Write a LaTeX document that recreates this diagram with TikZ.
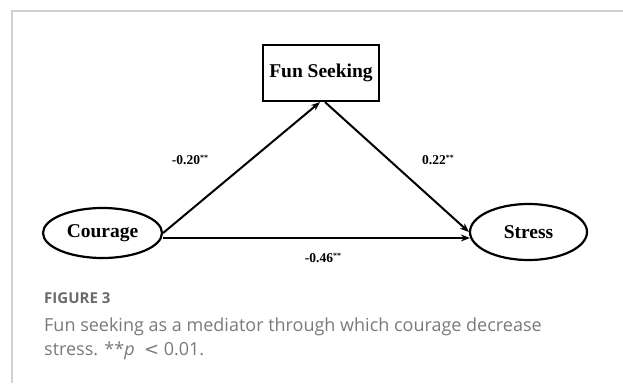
\documentclass[tikz,border=0pt]{standalone}
\usepackage{fontspec}
\setmainfont{Liberation Serif}
\newfontfamily\capfont{Open Sans}
\usetikzlibrary{shapes.geometric,arrows.meta}
\definecolor{framegray}{HTML}{D0D0D0}
\definecolor{capgray}{HTML}{6A6A6A}
\definecolor{bodygray}{HTML}{7A7A7A}
\newcommand{\stars}{\raisebox{4.5pt}{\fontsize{8}{8}\selectfont **}}
\tikzset{
  var/.style={draw, line width=2.2pt, ellipse, inner sep=0pt, font=\fontsize{19.5}{19.5}\selectfont\bfseries},
  medbox/.style={draw, line width=2.2pt, rectangle, inner sep=0pt, font=\fontsize{19.5}{19.5}\selectfont\bfseries},
  path/.style={line width=2pt, -{Stealth[length=9pt,width=7pt]}},
  coef/.style={inner sep=0pt, font=\fontsize{13.5}{13.5}\selectfont\bfseries},
}
\begin{document}
\begin{tikzpicture}[x=1pt,y=-1pt]
\useasboundingbox (0,0) rectangle (623,383);
\fill[white] (0,0) rectangle (623,383);
\draw[framegray, line width=1.5pt] (12,383) -- (12,11) -- (623,11);

\node[medbox, minimum width=116pt, minimum height=56pt] (fun) at (321,73) {Fun Seeking};
\node[var, minimum width=119pt, minimum height=50pt] (courage) at (102.5,233) {Courage};
\node[var, minimum width=117pt, minimum height=56pt] (stress) at (528.5,232) {Stress};

\draw[path] (courage.east) -- ([xshift=-1pt]fun.south);
\draw[path] ([xshift=4pt]fun.south) -- (stress.west);
\draw[path] ([yshift=-5pt]courage.east) -- ([yshift=-6pt,xshift=1pt]stress.west);

\node[coef] (c1) at (190,160) {-0.20\stars};
\node[coef] (c2) at (438,160) {0.22\stars};
\node[coef] (c3) at (323,258) {-0.46\stars};

\node[anchor=base west, inner sep=0pt, text=capgray, font=\capfont\bfseries\fontsize{15}{15}\selectfont] (fig) at (44,303) {FIGURE 3};
\node[anchor=base west, inner sep=0pt, text=bodygray, font=\capfont\fontsize{18}{18}\selectfont] (cap1) at (44,331) {Fun seeking as a mediator through which courage decrease};
\node[anchor=base west, inner sep=0pt, text=bodygray, font=\capfont\fontsize{18}{18}\selectfont] (cap2) at (44,355) {stress. **\textit{p}\ \ {\fontspec{DejaVu Sans}<} 0.01.};
\end{tikzpicture}
\end{document}
